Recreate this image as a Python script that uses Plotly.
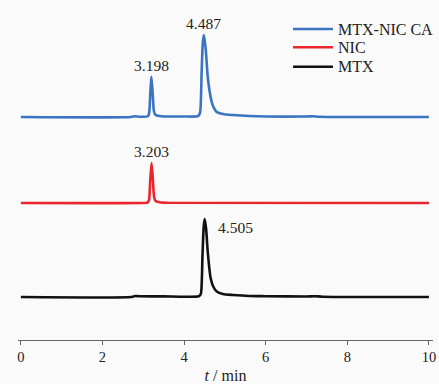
import plotly.graph_objects as go

# Retention time (min) and detector signal (relative units)
t_ca = [0, 2.7, 2.8, 2.9, 3.0, 3.1, 3.14, 3.17, 3.198, 3.23, 3.26, 3.3, 3.4, 3.6, 4.0, 4.34,
        4.39, 4.43, 4.46, 4.487, 4.53, 4.58, 4.65, 4.7, 4.8, 4.95, 5.2, 5.6, 6.0, 7.0, 7.15, 7.3, 8.0, 10.0]
s_ca = [0, 0, 0.8, 0.3, 0.2, 0.5, 3, 22, 40.5, 24, 6, 2, 1, 0.5, 0.5, 0.8,
        4, 45, 75, 82, 68, 40, 20, 12, 5, 3, 2, 1, 0.5, 0.5, 0.8, 0.3, 0, 0]

t_nic = [0, 3.0, 3.1, 3.14, 3.17, 3.203, 3.235, 3.265, 3.3, 3.4, 3.6, 10.0]
s_nic = [0, 0, 0.3, 3, 22, 40, 24, 6, 2, 0.8, 0.3, 0]

t_mtx = [0, 2.7, 2.8, 2.9, 3.5, 4.36, 4.41, 4.45, 4.48, 4.505, 4.54, 4.58, 4.65, 4.72, 4.8,
         4.95, 5.2, 5.6, 6.0, 7.0, 7.2, 7.4, 10.0]
s_mtx = [0, 0, 1, 0.8, 0.6, 0.8, 3, 40, 70, 78, 68, 45, 19, 10, 5.5,
         3, 2, 1, 0.8, 0.5, 0.8, 0.3, 0]

offsets = {"MTX-NIC CA": 223, "NIC": 137, "MTX": 43}
series = [
    ("MTX-NIC CA", t_ca, s_ca, "#3b74c2"),
    ("NIC", t_nic, s_nic, "#e8262b"),
    ("MTX", t_mtx, s_mtx, "#111111"),
]

peak_labels = [
    ("MTX-NIC CA", 3.198, "3.198", 40.5),
    ("MTX-NIC CA", 4.487, "4.487", 82),
    ("NIC", 3.203, "3.203", 40),
    ("MTX", 4.505, "4.505", 78),
]

xticks = [0, 2, 4, 6, 8, 10]

fig = go.Figure()
for name, t, s, c in series:
    fig.add_trace(go.Scatter(
        x=t, y=[v + offsets[name] for v in s], mode="lines", name=name,
        line=dict(color=c, width=2.6, shape="spline", smoothing=0.6),
        showlegend=False,
    ))

serif = "Liberation Serif"
font = dict(family=serif, size=15.5, color="#222222")

for name, x, txt, h in peak_labels:
    if name == "MTX":
        fig.add_annotation(x=x, y=h + offsets[name] - 8, text=txt, showarrow=False,
                           xanchor="left", yanchor="middle", xshift=11, font=font)
    else:
        fig.add_annotation(x=x, y=h + offsets[name], text=txt, showarrow=False,
                           xanchor="center", yanchor="bottom", yshift=1, font=font)

# legend (drawn in paper coordinates)
leg_y = [0.9424, 0.887, 0.828]
for (name, _, _, c), ly in zip(series, leg_y):
    fig.add_shape(type="line", xref="paper", yref="paper", x0=0.6627, x1=0.759, y0=ly, y1=ly,
                  line=dict(color=c, width=2.6))
    fig.add_annotation(xref="paper", yref="paper", x=0.766, y=ly, text=name, showarrow=False,
                       xanchor="left", yanchor="middle",
                       font=dict(family=serif, size=16, color="#222222"))

fig.update_layout(
    width=439, height=384,
    margin=dict(l=18, r=6, t=10, b=44),
    paper_bgcolor="#fafafa", plot_bgcolor="#fafafa",
    font=font,
    showlegend=False,
    xaxis=dict(range=[-0.07, 10.1], tickvals=xticks, ticktext=[str(v) for v in xticks],
               automargin=False,
               showgrid=False, zeroline=False, showline=True, linecolor="#666666", linewidth=1,
               ticks="outside", ticklen=4, tickcolor="#666666",
               title=dict(text="<i>t</i> / min", standoff=6, font=dict(family=serif, size=16, color="#222222")),
               tickfont=dict(family=serif, size=14.5, color="#222222")),
    yaxis=dict(range=[0, 330], visible=False),
)

fig.write_html("out.html", config={"displayModeBar": False},
               post_script="document.body.style.margin='0';document.body.style.background='#fafafa';")
